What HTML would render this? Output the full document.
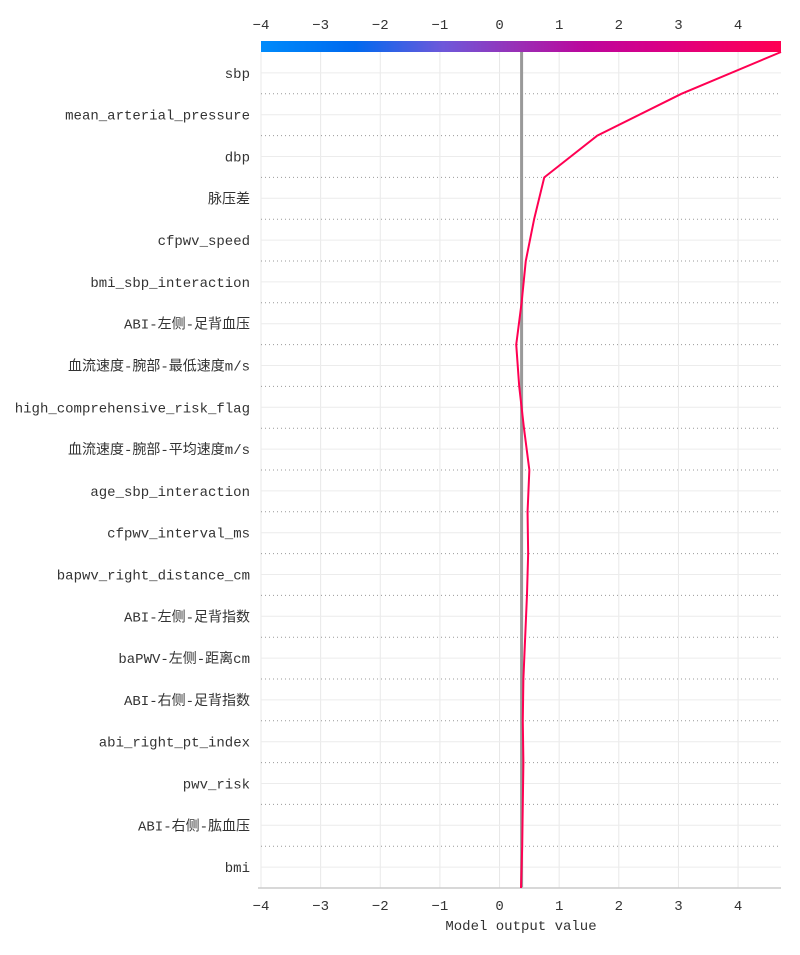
<!DOCTYPE html>
<html><head><meta charset="utf-8"><style>
body{margin:0;background:#fff;}
svg text{font-family:"Liberation Mono","Noto Sans CJK SC",monospace;}
</style></head><body>
<svg id="chart" width="800" height="950" xmlns="http://www.w3.org/2000/svg">
<defs>
<linearGradient id="cb" x1="0" x2="1" y1="0" y2="0">
<stop offset="0" stop-color="#008bfb"/><stop offset="0.18" stop-color="#0069ef"/>
<stop offset="0.35" stop-color="#6e58da"/><stop offset="0.5" stop-color="#9b2db4"/>
<stop offset="0.62" stop-color="#bb079d"/><stop offset="0.75" stop-color="#d60089"/>
<stop offset="0.88" stop-color="#ee006c"/><stop offset="1" stop-color="#ff0052"/>
</linearGradient>
</defs>
<g id="g"></g>
</svg>
<script>
const features=["sbp","mean_arterial_pressure","dbp","脉压差","cfpwv_speed","bmi_sbp_interaction","ABI-左侧-足背血压","血流速度-腕部-最低速度m/s","high_comprehensive_risk_flag","血流速度-腕部-平均速度m/s","age_sbp_interaction","cfpwv_interval_ms","bapwv_right_distance_cm","ABI-左侧-足背指数","baPWV-左侧-距离cm","ABI-右侧-足背指数","abi_right_pt_index","pwv_risk","ABI-右侧-肱血压","bmi"];
const cumValues=[4.72,3.05,1.64,0.75,0.58,0.44,0.37,0.28,0.33,0.41,0.50,0.47,0.48,0.46,0.43,0.40,0.39,0.40,0.39,0.38,0.36];
const baseValue=0.37;
const ticks=[-4,-3,-2,-1,0,1,2,3,4];
const tickLabels=["−4","−3","−2","−1","0","1","2","3","4"];
const NS="http://www.w3.org/2000/svg";
const g=document.getElementById('g');
const L=261,R=781,T=52,B=888;
const xMin=-4,xMax=4.72;
const X=v=>L+(v-xMin)/(xMax-xMin)*(R-L);
const rowH=(B-T)/features.length;
function el(t,a,txt){const e=document.createElementNS(NS,t);for(const k in a)e.setAttribute(k,a[k]);if(txt!==undefined)e.textContent=txt;g.appendChild(e);return e;}
// vertical grid
ticks.forEach(t=>{const e=el('line',{x1:X(t),x2:X(t),y1:T,y2:B,stroke:'#e8e8e8','stroke-width':1});

});
features.forEach((f,i)=>{
 const yc=T+rowH*(i+0.5);
 const gl=el('line',{x1:L,x2:R,y1:yc,y2:yc,stroke:'#ececec','stroke-width':1});
 
 
 if(i<features.length-1){const yb=T+rowH*(i+1);
  const d=el('line',{x1:L,x2:R,y1:yb,y2:yb,stroke:'#999','stroke-width':1,'stroke-dasharray':'1,3'});
  
  }
 const t=el('text',{x:250,y:yc+5,'text-anchor':'end','font-size':14,fill:'#333'},f);
 
 
});
// colorbar
const cb=el('rect',{x:L,y:41,width:R-L,height:11,fill:'url(#cb)'});


// base line
const bl=el('line',{x1:X(baseValue),x2:X(baseValue),y1:T,y2:B,stroke:'#999','stroke-width':3});


// axis
const ax=el('line',{x1:L-3,x2:R,y1:B,y2:B,stroke:'#ccc','stroke-width':1.5});


ticks.forEach((t,i)=>{
 const a=el('text',{x:X(t),y:29,'text-anchor':'middle','font-size':14,fill:'#333','font-family':'Liberation Sans, sans-serif'},tickLabels[i]);
 
 
 const b=el('text',{x:X(t),y:910,'text-anchor':'middle','font-size':14,fill:'#333','font-family':'Liberation Sans, sans-serif'},tickLabels[i]);
 
 
});
const ttl=el('text',{x:521,y:930,'text-anchor':'middle','font-size':14,fill:'#333'},'Model output value');


// decision line
const pts=cumValues.map((v,i)=>X(v)+','+(T+rowH*i)).join(' ');
const pl=el('polyline',{points:pts,fill:'none',stroke:'#ff0052','stroke-width':2});


</script>
</body></html>
